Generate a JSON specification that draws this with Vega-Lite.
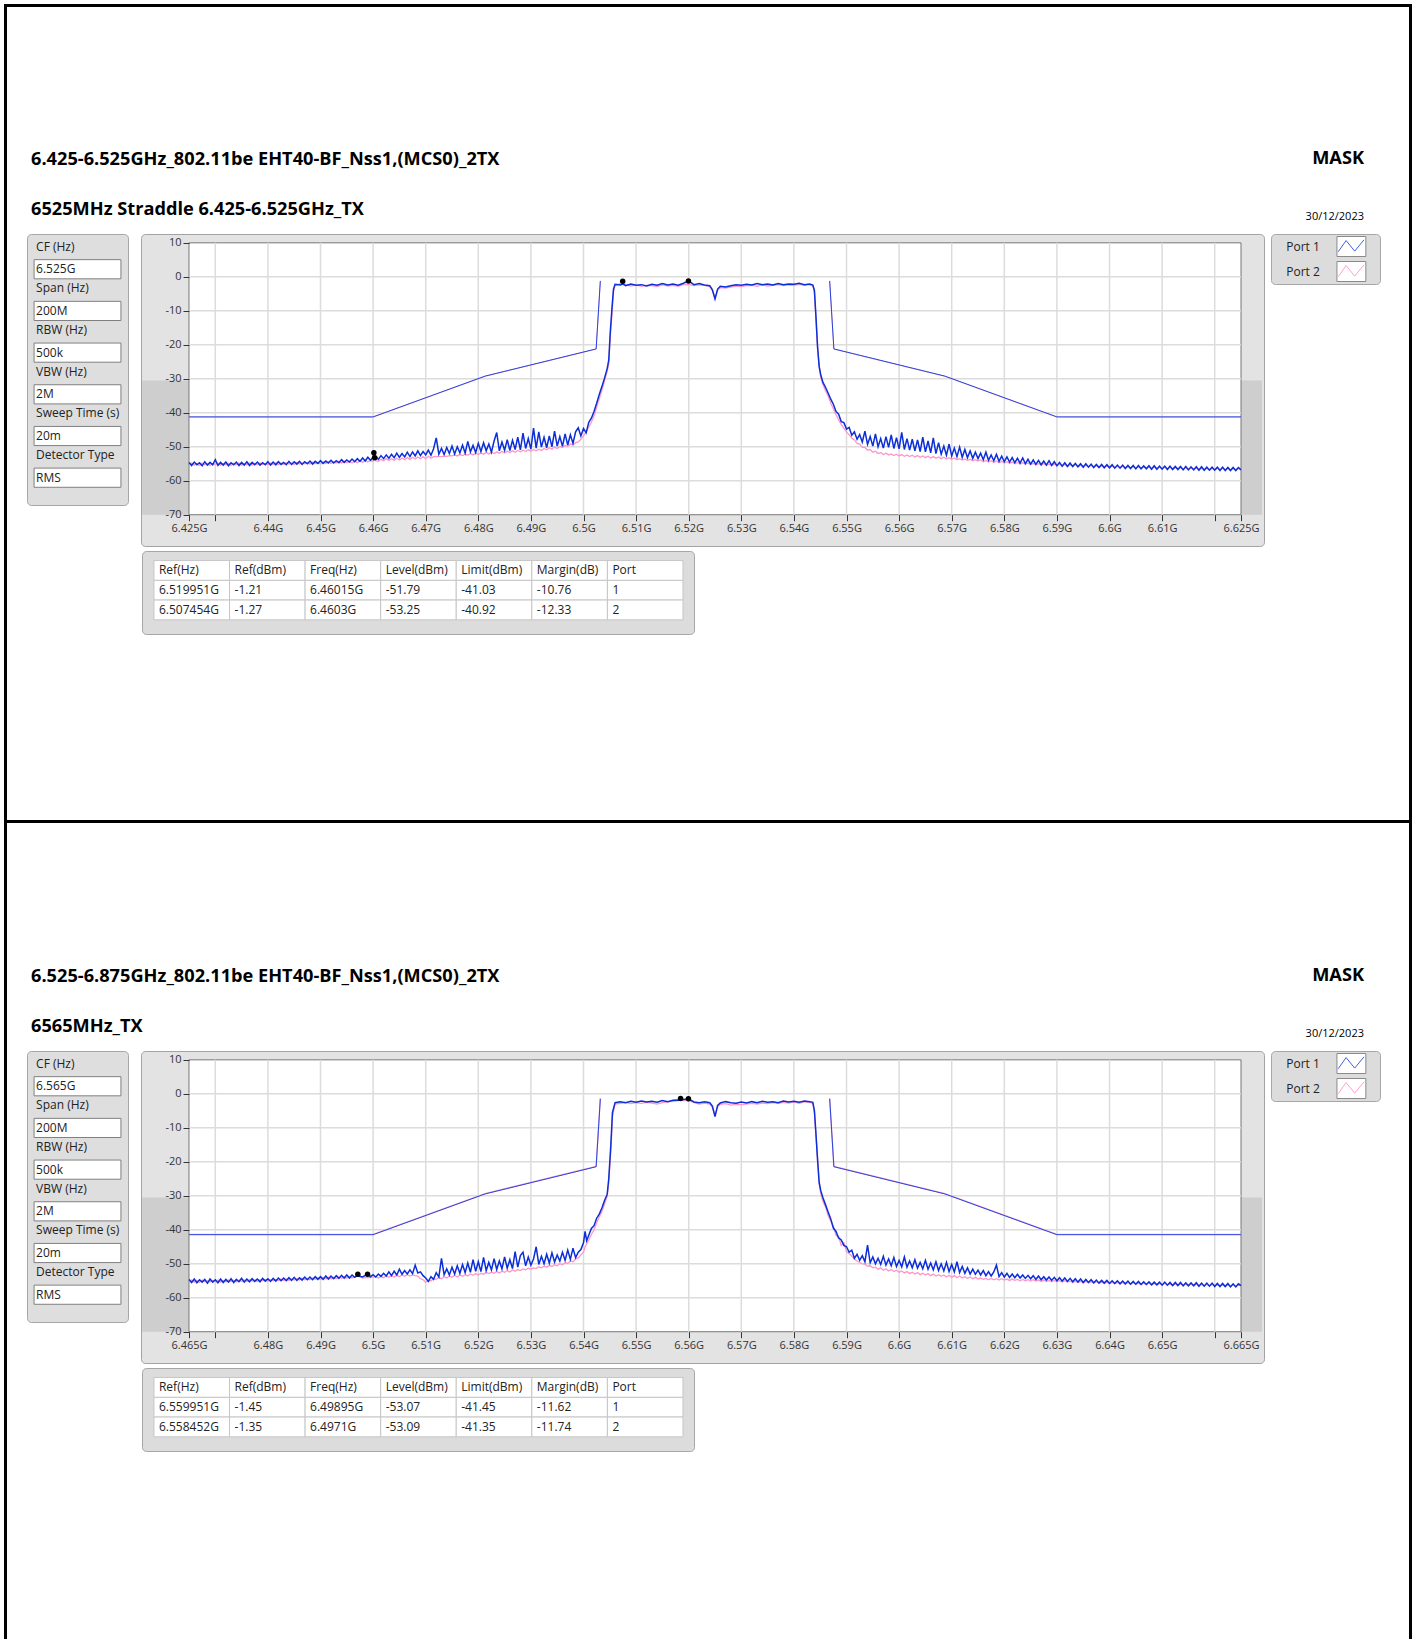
{
"$schema":"https://vega.github.io/schema/vega-lite/v6.json",
"padding":{"left":4,"top":4,"right":3,"bottom":0},
"background":"white",
"config":{"font":"Open Sans","view":{"stroke":null},"concat":{"spacing":0},
 "axis":{"labelOverlap":false,"labelSeparation":0},
 "locale":{"number":{"decimal":".","thousands":",","grouping":[3],"currency":["$",""],"minus":"-"}},
 "title":{"font":"Open Sans","subtitleFont":"Open Sans","color":"#000","subtitleColor":"#000"}},
"datasets":{
"par1":[{"p":"CF (Hz)","v":"6.525G"},{"p":"Span (Hz)","v":"200M"},{"p":"RBW (Hz)","v":"500k"},{"p":"VBW (Hz)","v":"2M"},{"p":"Sweep Time (s)","v":"20m"},{"p":"Detector Type","v":"RMS"}],
"par2":[{"p":"CF (Hz)","v":"6.565G"},{"p":"Span (Hz)","v":"200M"},{"p":"RBW (Hz)","v":"500k"},{"p":"VBW (Hz)","v":"2M"},{"p":"Sweep Time (s)","v":"20m"},{"p":"Detector Type","v":"RMS"}],
"ports":[{"port":"Port 1"},{"port":"Port 2"}],
"t1":[{"Ref(Hz)":6519951000,"Ref(dBm)":-1.21,"Freq(Hz)":6460150000,"Level(dBm)":-51.79,"Limit(dBm)":-41.03,"Margin(dB)":-10.76,"Port":1},{"Ref(Hz)":6507454000,"Ref(dBm)":-1.27,"Freq(Hz)":6460300000,"Level(dBm)":-53.25,"Limit(dBm)":-40.92,"Margin(dB)":-12.33,"Port":2}],
"t2":[{"Ref(Hz)":6559951000,"Ref(dBm)":-1.45,"Freq(Hz)":6498950000,"Level(dBm)":-53.07,"Limit(dBm)":-41.45,"Margin(dB)":-11.62,"Port":1},{"Ref(Hz)":6558452000,"Ref(dBm)":-1.35,"Freq(Hz)":6497100000,"Level(dBm)":-53.09,"Limit(dBm)":-41.35,"Margin(dB)":-11.74,"Port":2}],
"gx1":[{"g":6.43e9},{"g":6.44e9},{"g":6.45e9},{"g":6.46e9},{"g":6.47e9},{"g":6.48e9},{"g":6.49e9},{"g":6.5e9},{"g":6.51e9},{"g":6.52e9},{"g":6.53e9},{"g":6.54e9},{"g":6.55e9},{"g":6.56e9},{"g":6.57e9},{"g":6.58e9},{"g":6.59e9},{"g":6.6e9},{"g":6.61e9},{"g":6.62e9}],
"gx2":[{"g":6.47e9},{"g":6.48e9},{"g":6.49e9},{"g":6.5e9},{"g":6.51e9},{"g":6.52e9},{"g":6.53e9},{"g":6.54e9},{"g":6.55e9},{"g":6.56e9},{"g":6.57e9},{"g":6.58e9},{"g":6.59e9},{"g":6.6e9},{"g":6.61e9},{"g":6.62e9},{"g":6.63e9},{"g":6.64e9},{"g":6.65e9},{"g":6.66e9}],
"gy":[{"g":0},{"g":-10},{"g":-20},{"g":-30},{"g":-40},{"g":-50},{"g":-60}],
"m1":[{"f":6.425e9,"seg":"L","a":-41.21,"b":-41.27},{"f":6.46e9,"seg":"L","a":-41.21,"b":-41.27},{"f":6.4813e9,"seg":"L","a":-29.21,"b":-29.27},{"f":6.5024e9,"seg":"L","a":-21.21,"b":-21.27},{"f":6.5032e9,"seg":"L","a":-1.21,"b":-1.27},{"f":6.5468e9,"seg":"R","a":-1.21,"b":-1.27},{"f":6.5476e9,"seg":"R","a":-21.21,"b":-21.27},{"f":6.5687e9,"seg":"R","a":-29.21,"b":-29.27},{"f":6.59e9,"seg":"R","a":-41.21,"b":-41.27},{"f":6.625e9,"seg":"R","a":-41.21,"b":-41.27}],
"m2":[{"f":6.465e9,"seg":"L","a":-41.45,"b":-41.35},{"f":6.5e9,"seg":"L","a":-41.45,"b":-41.35},{"f":6.5213e9,"seg":"L","a":-29.45,"b":-29.35},{"f":6.5424e9,"seg":"L","a":-21.45,"b":-21.35},{"f":6.5432e9,"seg":"L","a":-1.45,"b":-1.35},{"f":6.5868e9,"seg":"R","a":-1.45,"b":-1.35},{"f":6.5876e9,"seg":"R","a":-21.45,"b":-21.35},{"f":6.6087e9,"seg":"R","a":-29.45,"b":-29.35},{"f":6.63e9,"seg":"R","a":-41.45,"b":-41.35},{"f":6.665e9,"seg":"R","a":-41.45,"b":-41.35}],
"s1":[
{"f":6.425e9,"a":-54.6,"b":-55.1},{"f":6.4255e9,"a":-55.5,"b":-54.8},{"f":6.426e9,"a":-54.5,"b":-55.4},{"f":6.4265e9,"a":-55.3,"b":-54.9},{"f":6.427e9,"a":-54.7,"b":-55.5},{"f":6.4275e9,"a":-55.6,"b":-54.8},{"f":6.428e9,"a":-54.4,"b":-55.3},{"f":6.4285e9,"a":-55.4,"b":-54.9},{"f":6.429e9,"a":-54.6,"b":-55.5},{"f":6.4295e9,"a":-55.3,"b":-55.0},{"f":6.43e9,"a":-53.8,"b":-55.2},{"f":6.4305e9,"a":-55.5,"b":-54.8},{"f":6.431e9,"a":-54.6,"b":-55.4},{"f":6.4315e9,"a":-55.4,"b":-54.9},{"f":6.432e9,"a":-54.5,"b":-55.3},{"f":6.4325e9,"a":-55.6,"b":-54.8},{"f":6.433e9,"a":-54.7,"b":-55.5},{"f":6.4335e9,"a":-55.3,"b":-54.9},{"f":6.434e9,"a":-54.5,"b":-55.3},{"f":6.4345e9,"a":-55.5,"b":-54.8},{"f":6.435e9,"a":-54.6,"b":-55.4},{"f":6.4355e9,"a":-55.4,"b":-54.9},{"f":6.436e9,"a":-54.4,"b":-55.3},{"f":6.4365e9,"a":-55.5,"b":-54.8},{"f":6.437e9,"a":-54.6,"b":-55.4},{"f":6.4375e9,"a":-55.3,"b":-54.9},{"f":6.438e9,"a":-54.5,"b":-55.3},{"f":6.4385e9,"a":-55.4,"b":-54.8},{"f":6.439e9,"a":-54.7,"b":-55.2},{"f":6.4395e9,"a":-55.3,"b":-54.9},{"f":6.44e9,"a":-54.4,"b":-55.3},{"f":6.4405e9,"a":-55.4,"b":-54.8},{"f":6.441e9,"a":-54.5,"b":-55.2},{"f":6.4415e9,"a":-55.3,"b":-54.7},{"f":6.442e9,"a":-54.4,"b":-55.3},{"f":6.4425e9,"a":-55.2,"b":-54.8},{"f":6.443e9,"a":-54.6,"b":-55.2},{"f":6.4435e9,"a":-55.3,"b":-54.7},{"f":6.444e9,"a":-54.3,"b":-55.1},{"f":6.4445e9,"a":-55.2,"b":-54.8},{"f":6.445e9,"a":-54.4,"b":-55.2},{"f":6.4455e9,"a":-55.1,"b":-54.6},{"f":6.446e9,"a":-54.3,"b":-55.1},{"f":6.4465e9,"a":-55.2,"b":-54.7},{"f":6.447e9,"a":-54.4,"b":-55.0},{"f":6.4475e9,"a":-55.0,"b":-54.6},{"f":6.448e9,"a":-54.2,"b":-55.1},{"f":6.4485e9,"a":-55.1,"b":-54.5},{"f":6.449e9,"a":-54.3,"b":-55.0},{"f":6.4495e9,"a":-54.9,"b":-54.6},{"f":6.45e9,"a":-54.1,"b":-55.0},{"f":6.4505e9,"a":-54.9,"b":-54.5},{"f":6.451e9,"a":-54.2,"b":-54.9},{"f":6.4515e9,"a":-54.8,"b":-54.4},{"f":6.452e9,"a":-54.0,"b":-54.9},{"f":6.4525e9,"a":-54.8,"b":-54.4},{"f":6.453e9,"a":-54.1,"b":-54.8},{"f":6.4535e9,"a":-54.7,"b":-54.3},{"f":6.454e9,"a":-53.8,"b":-54.8},{"f":6.4545e9,"a":-54.6,"b":-54.3},
{"f":6.455e9,"a":-53.9,"b":-54.7},{"f":6.4555e9,"a":-54.5,"b":-54.3},{"f":6.456e9,"a":-53.6,"b":-54.8},{"f":6.4565e9,"a":-54.4,"b":-54.2},{"f":6.457e9,"a":-53.5,"b":-54.7},{"f":6.4575e9,"a":-54.3,"b":-54.1},{"f":6.458e9,"a":-53.3,"b":-54.6},{"f":6.4585e9,"a":-54.2,"b":-53.9},{"f":6.459e9,"a":-53.1,"b":-54.5},{"f":6.4595e9,"a":-54.0,"b":-54.0},{"f":6.46e9,"a":-53.0,"b":-54.3},{"f":6.46015e9,"a":-51.79,"b":-53.7},{"f":6.4603e9,"a":-53.6,"b":-53.25},{"f":6.4605e9,"a":-52.8,"b":-54.1},{"f":6.461e9,"a":-53.7,"b":-54.3},{"f":6.4615e9,"a":-52.6,"b":-53.7},{"f":6.462e9,"a":-53.5,"b":-54.1},{"f":6.4625e9,"a":-52.4,"b":-53.5},{"f":6.463e9,"a":-53.4,"b":-54.0},{"f":6.4635e9,"a":-52.2,"b":-53.5},{"f":6.464e9,"a":-53.2,"b":-54.0},{"f":6.4645e9,"a":-51.9,"b":-53.4},{"f":6.465e9,"a":-53.1,"b":-53.9},{"f":6.4655e9,"a":-52.0,"b":-53.3},{"f":6.466e9,"a":-53.0,"b":-53.8},{"f":6.4665e9,"a":-51.6,"b":-53.2},{"f":6.467e9,"a":-52.9,"b":-53.7},{"f":6.4675e9,"a":-51.5,"b":-53.1},{"f":6.468e9,"a":-52.7,"b":-53.6},{"f":6.4685e9,"a":-51.2,"b":-53.0},{"f":6.469e9,"a":-52.6,"b":-53.5},{"f":6.4695e9,"a":-51.4,"b":-52.9},{"f":6.47e9,"a":-52.4,"b":-53.5},{"f":6.4705e9,"a":-51.0,"b":-52.8},{"f":6.471e9,"a":-52.5,"b":-53.4},{"f":6.4715e9,"a":-50.6,"b":-52.9},{"f":6.472e9,"a":-47.4,"b":-52.9},{"f":6.4725e9,"a":-52.2,"b":-52.9},{"f":6.473e9,"a":-50.5,"b":-52.9},{"f":6.4735e9,"a":-52.3,"b":-52.8},{"f":6.474e9,"a":-50.2,"b":-52.8},{"f":6.4745e9,"a":-52.0,"b":-52.6},{"f":6.475e9,"a":-49.8,"b":-52.7},{"f":6.4755e9,"a":-52.1,"b":-52.4},{"f":6.476e9,"a":-50.0,"b":-52.7},{"f":6.4765e9,"a":-51.8,"b":-52.3},{"f":6.477e9,"a":-49.5,"b":-52.6},{"f":6.4775e9,"a":-51.9,"b":-52.2},{"f":6.478e9,"a":-48.4,"b":-52.5},{"f":6.4785e9,"a":-51.5,"b":-52.0},{"f":6.479e9,"a":-49.6,"b":-52.4},{"f":6.4795e9,"a":-51.7,"b":-51.9},{"f":6.48e9,"a":-49.0,"b":-52.3},{"f":6.4805e9,"a":-51.4,"b":-51.8},{"f":6.481e9,"a":-48.8,"b":-52.2},{"f":6.4815e9,"a":-51.2,"b":-51.7},{"f":6.482e9,"a":-49.2,"b":-52.1},{"f":6.4825e9,"a":-51.6,"b":-51.6},{"f":6.483e9,"a":-48.3,"b":-52.0},{"f":6.4835e9,"a":-45.8,"b":-51.5},{"f":6.484e9,"a":-51.2,"b":-51.9},{"f":6.4845e9,"a":-48.6,"b":-51.4},{"f":6.485e9,"a":-51.0,"b":-51.8},{"f":6.4855e9,"a":-47.9,"b":-51.3},{"f":6.486e9,"a":-51.1,"b":-51.7},{"f":6.4865e9,"a":-48.1,"b":-51.2},{"f":6.487e9,"a":-50.8,"b":-51.6},{"f":6.4875e9,"a":-47.2,"b":-51.1},{"f":6.488e9,"a":-50.9,"b":-51.5},{"f":6.4885e9,"a":-46.0,"b":-51.0},{"f":6.489e9,"a":-50.5,"b":-51.4},{"f":6.4895e9,"a":-47.6,"b":-50.9},{"f":6.49e9,"a":-50.7,"b":-51.3},{"f":6.4905e9,"a":-44.5,"b":-50.8},{"f":6.491e9,"a":-50.4,"b":-51.2},{"f":6.4915e9,"a":-45.6,"b":-50.7},{"f":6.492e9,"a":-50.1,"b":-51.1},{"f":6.4925e9,"a":-47.2,"b":-50.5},{"f":6.493e9,"a":-50.3,"b":-50.9},{"f":6.4935e9,"a":-46.8,"b":-50.3},{"f":6.494e9,"a":-50.0,"b":-50.7},{"f":6.4945e9,"a":-45.4,"b":-50.1},{"f":6.495e9,"a":-49.8,"b":-50.5},{"f":6.4955e9,"a":-47.0,"b":-49.9},{"f":6.496e9,"a":-49.9,"b":-50.2},{"f":6.4965e9,"a":-46.2,"b":-49.6},{"f":6.497e9,"a":-49.5,"b":-49.9},{"f":6.4975e9,"a":-46.5,"b":-49.2},{"f":6.498e9,"a":-49.0,"b":-49.4},{"f":6.4985e9,"a":-45.6,"b":-48.8},{"f":6.499e9,"a":-44.4,"b":-48.6},{"f":6.4995e9,"a":-46.8,"b":-47.8},{"f":6.5e9,"a":-44.6,"b":-46.8},{"f":6.5005e9,"a":-45.9,"b":-45.6},{"f":6.501e9,"a":-42.8,"b":-44.2},{"f":6.5015e9,"a":-41.6,"b":-42.8},{"f":6.502e9,"a":-39.6,"b":-40.9},{"f":6.5025e9,"a":-37.2,"b":-38.4},{"f":6.503e9,"a":-34.6,"b":-35.9},{"f":6.5035e9,"a":-32.3,"b":-33.4},{"f":6.504e9,"a":-29.8,"b":-30.6},{"f":6.5045e9,"a":-27.0,"b":-27.8},{"f":6.5048e9,"a":-24.5,"b":-25.6},{"f":6.5051e9,"a":-16.0,"b":-17.5},{"f":6.5054e9,"a":-9.5,"b":-11.0},{"f":6.5057e9,"a":-3.6,"b":-4.4},{"f":6.506e9,"a":-2.2,"b":-2.6},
{"f":6.507e9,"a":-2.4,"b":-2.0},{"f":6.507454e9,"a":-2.1,"b":-1.27},{"f":6.508e9,"a":-2.6,"b":-2.3},{"f":6.509e9,"a":-2.1,"b":-2.7},{"f":6.51e9,"a":-2.5,"b":-2.4},{"f":6.511e9,"a":-2.3,"b":-2.8},{"f":6.512e9,"a":-2.7,"b":-2.5},{"f":6.513e9,"a":-2.2,"b":-2.6},{"f":6.514e9,"a":-2.5,"b":-2.9},{"f":6.515e9,"a":-2.0,"b":-2.4},{"f":6.516e9,"a":-2.4,"b":-2.7},{"f":6.517e9,"a":-2.1,"b":-2.5},{"f":6.518e9,"a":-2.5,"b":-2.8},{"f":6.519e9,"a":-1.9,"b":-2.3},{"f":6.519951e9,"a":-1.21,"b":-2.2},{"f":6.521e9,"a":-2.3,"b":-2.6},{"f":6.522e9,"a":-2.0,"b":-2.4},{"f":6.523e9,"a":-2.4,"b":-2.5},{"f":6.524e9,"a":-2.6,"b":-2.9},{"f":6.5245e9,"a":-3.8,"b":-4.0},{"f":6.525e9,"a":-6.5,"b":-6.2},{"f":6.5255e9,"a":-3.6,"b":-3.9},{"f":6.526e9,"a":-2.8,"b":-3.2},{"f":6.527e9,"a":-3.0,"b":-3.3},{"f":6.528e9,"a":-2.6,"b":-3.0},{"f":6.529e9,"a":-2.3,"b":-2.7},{"f":6.53e9,"a":-2.5,"b":-2.9},{"f":6.531e9,"a":-2.2,"b":-2.6},{"f":6.532e9,"a":-2.4,"b":-2.5},{"f":6.533e9,"a":-2.0,"b":-2.8},{"f":6.534e9,"a":-2.3,"b":-2.4},{"f":6.535e9,"a":-2.1,"b":-2.7},{"f":6.536e9,"a":-2.4,"b":-2.5},{"f":6.537e9,"a":-2.0,"b":-2.3},{"f":6.538e9,"a":-2.3,"b":-2.6},{"f":6.539e9,"a":-2.1,"b":-2.4},{"f":6.54e9,"a":-2.2,"b":-2.5},{"f":6.541e9,"a":-1.9,"b":-2.2},{"f":6.542e9,"a":-2.3,"b":-2.5},{"f":6.543e9,"a":-2.1,"b":-2.3},{"f":6.5436e9,"a":-2.4,"b":-2.7},{"f":6.5439e9,"a":-4.0,"b":-4.5},{"f":6.5442e9,"a":-12.0,"b":-12.5},{"f":6.5445e9,"a":-20.7,"b":-21.0},{"f":6.5448e9,"a":-26.4,"b":-26.0},{"f":6.5451e9,"a":-28.8,"b":-29.6},{"f":6.5455e9,"a":-31.0,"b":-31.6},{"f":6.546e9,"a":-32.5,"b":-33.5},{"f":6.5465e9,"a":-34.2,"b":-35.0},{"f":6.547e9,"a":-36.0,"b":-37.2},{"f":6.5475e9,"a":-37.5,"b":-38.8},{"f":6.548e9,"a":-39.6,"b":-40.6},{"f":6.5485e9,"a":-40.4,"b":-42.0},{"f":6.549e9,"a":-42.6,"b":-43.4},{"f":6.5495e9,"a":-42.9,"b":-44.6},{"f":6.55e9,"a":-44.8,"b":-45.6},{"f":6.5505e9,"a":-44.3,"b":-46.5},{"f":6.551e9,"a":-46.6,"b":-47.4},{"f":6.5515e9,"a":-45.6,"b":-48.0},{"f":6.552e9,"a":-47.8,"b":-49.0},{"f":6.5525e9,"a":-46.4,"b":-49.2},{"f":6.553e9,"a":-48.6,"b":-50.2},{"f":6.5535e9,"a":-45.4,"b":-50.2},{"f":6.554e9,"a":-49.3,"b":-51.0},{"f":6.5545e9,"a":-47.0,"b":-50.8},{"f":6.555e9,"a":-49.8,"b":-51.6},{"f":6.5555e9,"a":-46.2,"b":-51.3},{"f":6.556e9,"a":-50.0,"b":-52.0},{"f":6.5565e9,"a":-47.6,"b":-51.7},{"f":6.557e9,"a":-50.4,"b":-52.3},{"f":6.5575e9,"a":-47.0,"b":-51.9},{"f":6.558e9,"a":-50.2,"b":-52.4},{"f":6.5585e9,"a":-46.5,"b":-52.1},{"f":6.559e9,"a":-50.5,"b":-52.6},{"f":6.5595e9,"a":-47.3,"b":-52.2},{"f":6.56e9,"a":-50.6,"b":-52.7},{"f":6.5605e9,"a":-45.8,"b":-52.3},{"f":6.561e9,"a":-50.8,"b":-52.8},{"f":6.5615e9,"a":-47.6,"b":-52.4},{"f":6.562e9,"a":-51.0,"b":-52.9},{"f":6.5625e9,"a":-47.8,"b":-52.5},{"f":6.563e9,"a":-51.2,"b":-53.0},{"f":6.5635e9,"a":-48.0,"b":-52.6},{"f":6.564e9,"a":-51.4,"b":-53.1},{"f":6.5645e9,"a":-47.2,"b":-52.7},{"f":6.565e9,"a":-51.5,"b":-53.2},{"f":6.5655e9,"a":-48.3,"b":-52.8},{"f":6.566e9,"a":-51.8,"b":-53.3},{"f":6.5665e9,"a":-47.4,"b":-52.9},{"f":6.567e9,"a":-52.0,"b":-53.4},{"f":6.5675e9,"a":-48.8,"b":-53.0},{"f":6.568e9,"a":-52.2,"b":-53.5},{"f":6.5685e9,"a":-49.8,"b":-53.1},{"f":6.569e9,"a":-52.5,"b":-53.6},{"f":6.5695e9,"a":-49.2,"b":-53.2},{"f":6.57e9,"a":-52.7,"b":-53.7},{"f":6.5705e9,"a":-50.4,"b":-53.3},{"f":6.571e9,"a":-52.9,"b":-53.8},{"f":6.5715e9,"a":-50.1,"b":-53.5},{"f":6.572e9,"a":-53.1,"b":-53.9},{"f":6.5725e9,"a":-50.8,"b":-53.6},{"f":6.573e9,"a":-53.2,"b":-54.0},{"f":6.5735e9,"a":-51.2,"b":-53.7},{"f":6.574e9,"a":-53.4,"b":-54.1},{"f":6.5745e9,"a":-51.6,"b":-53.8},{"f":6.575e9,"a":-53.5,"b":-54.2},
{"f":6.5755e9,"a":-51.9,"b":-53.9},{"f":6.576e9,"a":-53.8,"b":-54.4},{"f":6.5765e9,"a":-51.6,"b":-54.0},{"f":6.577e9,"a":-54.0,"b":-54.5},{"f":6.5775e9,"a":-52.4,"b":-54.1},{"f":6.578e9,"a":-54.1,"b":-54.6},{"f":6.5785e9,"a":-52.2,"b":-54.2},{"f":6.579e9,"a":-54.3,"b":-54.7},{"f":6.5795e9,"a":-52.8,"b":-54.3},{"f":6.58e9,"a":-54.4,"b":-54.8},{"f":6.5805e9,"a":-53.0,"b":-54.4},{"f":6.581e9,"a":-54.5,"b":-54.9},{"f":6.5815e9,"a":-53.2,"b":-54.5},{"f":6.582e9,"a":-54.7,"b":-55.0},{"f":6.5825e9,"a":-53.4,"b":-54.6},{"f":6.583e9,"a":-54.8,"b":-55.1},{"f":6.5835e9,"a":-53.3,"b":-54.7},{"f":6.584e9,"a":-55.0,"b":-55.1},{"f":6.5845e9,"a":-53.7,"b":-54.8},{"f":6.585e9,"a":-55.1,"b":-55.2},{"f":6.5855e9,"a":-53.9,"b":-54.9},{"f":6.586e9,"a":-55.2,"b":-55.3},{"f":6.5865e9,"a":-54.0,"b":-55.0},{"f":6.587e9,"a":-55.3,"b":-55.3},{"f":6.5875e9,"a":-54.2,"b":-55.0},{"f":6.588e9,"a":-55.4,"b":-55.4},{"f":6.5885e9,"a":-54.1,"b":-55.1},{"f":6.589e9,"a":-55.5,"b":-55.5},{"f":6.5895e9,"a":-54.4,"b":-55.1},{"f":6.59e9,"a":-55.6,"b":-55.5},{"f":6.5905e9,"a":-54.6,"b":-55.2},{"f":6.591e9,"a":-55.7,"b":-55.6},{"f":6.5915e9,"a":-54.7,"b":-55.2},{"f":6.592e9,"a":-55.8,"b":-55.7},{"f":6.5925e9,"a":-54.8,"b":-55.3},{"f":6.593e9,"a":-55.8,"b":-55.7},{"f":6.5935e9,"a":-54.9,"b":-55.3},{"f":6.594e9,"a":-55.9,"b":-55.8},{"f":6.5945e9,"a":-55.0,"b":-55.4},{"f":6.595e9,"a":-56.0,"b":-55.8},{"f":6.5955e9,"a":-55.0,"b":-55.4},{"f":6.596e9,"a":-56.0,"b":-55.9},{"f":6.5965e9,"a":-55.1,"b":-55.5},{"f":6.597e9,"a":-56.1,"b":-55.9},{"f":6.5975e9,"a":-55.2,"b":-55.5},{"f":6.598e9,"a":-56.1,"b":-56.0},{"f":6.5985e9,"a":-55.2,"b":-55.6},{"f":6.599e9,"a":-56.2,"b":-56.0},{"f":6.5995e9,"a":-55.3,"b":-55.6},{"f":6.6e9,"a":-56.2,"b":-56.1},{"f":6.6005e9,"a":-55.3,"b":-55.7},{"f":6.601e9,"a":-56.3,"b":-56.1},{"f":6.6015e9,"a":-55.4,"b":-55.7},{"f":6.602e9,"a":-56.3,"b":-56.2},{"f":6.6025e9,"a":-55.4,"b":-55.7},{"f":6.603e9,"a":-56.4,"b":-56.2},{"f":6.6035e9,"a":-55.5,"b":-55.8},{"f":6.604e9,"a":-56.4,"b":-56.2},{"f":6.6045e9,"a":-55.5,"b":-55.8},{"f":6.605e9,"a":-56.5,"b":-56.3},{"f":6.6055e9,"a":-55.5,"b":-55.8},{"f":6.606e9,"a":-56.5,"b":-56.3},{"f":6.6065e9,"a":-55.6,"b":-55.9},{"f":6.607e9,"a":-56.5,"b":-56.3},{"f":6.6075e9,"a":-55.6,"b":-55.9},{"f":6.608e9,"a":-56.6,"b":-56.4},{"f":6.6085e9,"a":-55.6,"b":-55.9},{"f":6.609e9,"a":-56.6,"b":-56.4},{"f":6.6095e9,"a":-55.7,"b":-56.0},{"f":6.61e9,"a":-56.6,"b":-56.4},{"f":6.6105e9,"a":-55.7,"b":-56.0},{"f":6.611e9,"a":-56.7,"b":-56.5},{"f":6.6115e9,"a":-55.7,"b":-56.0},{"f":6.612e9,"a":-56.7,"b":-56.5},{"f":6.6125e9,"a":-55.8,"b":-56.1},{"f":6.613e9,"a":-56.7,"b":-56.5},{"f":6.6135e9,"a":-55.8,"b":-56.1},{"f":6.614e9,"a":-56.8,"b":-56.6},{"f":6.6145e9,"a":-55.8,"b":-56.1},{"f":6.615e9,"a":-56.8,"b":-56.6},{"f":6.6155e9,"a":-55.9,"b":-56.2},{"f":6.616e9,"a":-56.8,"b":-56.6},{"f":6.6165e9,"a":-55.9,"b":-56.2},{"f":6.617e9,"a":-56.9,"b":-56.7},{"f":6.6175e9,"a":-55.9,"b":-56.2},{"f":6.618e9,"a":-56.9,"b":-56.7},{"f":6.6185e9,"a":-56.0,"b":-56.3},{"f":6.619e9,"a":-56.9,"b":-56.7},{"f":6.6195e9,"a":-56.0,"b":-56.3},{"f":6.62e9,"a":-56.9,"b":-56.7},{"f":6.6205e9,"a":-56.0,"b":-56.3},{"f":6.621e9,"a":-57.0,"b":-56.8},{"f":6.6215e9,"a":-56.0,"b":-56.3},{"f":6.622e9,"a":-57.0,"b":-56.8},{"f":6.6225e9,"a":-56.1,"b":-56.4},{"f":6.623e9,"a":-57.0,"b":-56.8},{"f":6.6235e9,"a":-56.1,"b":-56.4},{"f":6.624e9,"a":-57.0,"b":-56.8},{"f":6.6245e9,"a":-56.1,"b":-56.4},{"f":6.625e9,"a":-56.8,"b":-56.6}],
"s2":[
{"f":6.465e9,"a":-54.6,"b":-55.1},{"f":6.4655e9,"a":-55.5,"b":-54.8},{"f":6.466e9,"a":-54.5,"b":-55.4},{"f":6.4665e9,"a":-55.6,"b":-54.9},{"f":6.467e9,"a":-54.7,"b":-55.5},{"f":6.4675e9,"a":-55.4,"b":-54.8},{"f":6.468e9,"a":-54.6,"b":-55.3},{"f":6.4685e9,"a":-55.7,"b":-55.0},{"f":6.469e9,"a":-54.5,"b":-55.4},{"f":6.4695e9,"a":-55.4,"b":-54.9},{"f":6.47e9,"a":-54.7,"b":-55.3},{"f":6.4705e9,"a":-55.6,"b":-54.8},{"f":6.471e9,"a":-54.5,"b":-55.4},{"f":6.4715e9,"a":-55.5,"b":-54.9},{"f":6.472e9,"a":-54.6,"b":-55.3},{"f":6.4725e9,"a":-55.4,"b":-54.8},{"f":6.473e9,"a":-54.4,"b":-55.2},{"f":6.4735e9,"a":-55.5,"b":-54.9},{"f":6.474e9,"a":-54.6,"b":-55.3},{"f":6.4745e9,"a":-55.3,"b":-54.8},{"f":6.475e9,"a":-54.3,"b":-55.2},{"f":6.4755e9,"a":-55.4,"b":-54.8},{"f":6.476e9,"a":-54.5,"b":-55.2},{"f":6.4765e9,"a":-55.3,"b":-54.7},{"f":6.477e9,"a":-54.4,"b":-55.1},{"f":6.4775e9,"a":-55.2,"b":-54.8},{"f":6.478e9,"a":-54.5,"b":-55.2},{"f":6.4785e9,"a":-55.3,"b":-54.7},{"f":6.479e9,"a":-54.3,"b":-55.0},{"f":6.4795e9,"a":-55.1,"b":-54.7},{"f":6.48e9,"a":-54.4,"b":-55.1},{"f":6.4805e9,"a":-55.2,"b":-54.6},{"f":6.481e9,"a":-54.3,"b":-55.0},{"f":6.4815e9,"a":-55.1,"b":-54.6},{"f":6.482e9,"a":-54.2,"b":-55.0},{"f":6.4825e9,"a":-55.0,"b":-54.5},{"f":6.483e9,"a":-54.2,"b":-54.9},{"f":6.4835e9,"a":-55.0,"b":-54.5},{"f":6.484e9,"a":-54.1,"b":-54.9},{"f":6.4845e9,"a":-54.9,"b":-54.4},{"f":6.485e9,"a":-54.0,"b":-54.8},{"f":6.4855e9,"a":-54.9,"b":-54.4},{"f":6.486e9,"a":-54.1,"b":-54.8},{"f":6.4865e9,"a":-54.8,"b":-54.3},{"f":6.487e9,"a":-53.9,"b":-54.7},{"f":6.4875e9,"a":-54.7,"b":-54.3},{"f":6.488e9,"a":-53.9,"b":-54.7},{"f":6.4885e9,"a":-54.7,"b":-54.2},{"f":6.489e9,"a":-53.8,"b":-54.6},{"f":6.4895e9,"a":-54.6,"b":-54.2},{"f":6.49e9,"a":-53.8,"b":-54.6},{"f":6.4905e9,"a":-54.6,"b":-54.1},{"f":6.491e9,"a":-53.6,"b":-54.5},{"f":6.4915e9,"a":-54.5,"b":-54.0},{"f":6.492e9,"a":-53.6,"b":-54.5},{"f":6.4925e9,"a":-54.4,"b":-54.0},{"f":6.493e9,"a":-53.5,"b":-54.4},{"f":6.4935e9,"a":-54.3,"b":-53.9},{"f":6.494e9,"a":-53.4,"b":-54.3},{"f":6.4945e9,"a":-54.2,"b":-53.9},{"f":6.495e9,"a":-53.3,"b":-54.3},{"f":6.4955e9,"a":-54.2,"b":-53.8},{"f":6.496e9,"a":-53.3,"b":-54.2},{"f":6.4965e9,"a":-54.0,"b":-53.8},{"f":6.497e9,"a":-53.5,"b":-53.6},{"f":6.4971e9,"a":-53.6,"b":-53.09},{"f":6.498e9,"a":-53.9,"b":-54.2},{"f":6.49895e9,"a":-53.07,"b":-54.0},{"f":6.4995e9,"a":-53.8,"b":-54.1},
{"f":6.5e9,"a":-53.2,"b":-53.9},{"f":6.5005e9,"a":-53.9,"b":-53.8},{"f":6.501e9,"a":-53.0,"b":-54.2},{"f":6.5015e9,"a":-53.7,"b":-53.7},{"f":6.502e9,"a":-52.8,"b":-54.1},{"f":6.5025e9,"a":-53.6,"b":-53.6},{"f":6.503e9,"a":-52.4,"b":-54.0},{"f":6.5035e9,"a":-53.5,"b":-53.5},{"f":6.504e9,"a":-52.2,"b":-53.9},{"f":6.5045e9,"a":-53.3,"b":-53.4},{"f":6.505e9,"a":-51.6,"b":-53.8},{"f":6.5055e9,"a":-53.1,"b":-53.3},{"f":6.506e9,"a":-52.0,"b":-53.7},{"f":6.5065e9,"a":-53.0,"b":-53.2},{"f":6.507e9,"a":-51.8,"b":-53.6},{"f":6.5075e9,"a":-52.9,"b":-53.3},{"f":6.508e9,"a":-50.4,"b":-53.5},{"f":6.5085e9,"a":-52.7,"b":-53.6},{"f":6.509e9,"a":-52.4,"b":-54.4},{"f":6.5095e9,"a":-53.5,"b":-54.7},{"f":6.51e9,"a":-54.2,"b":-55.4},{"f":6.5105e9,"a":-55.2,"b":-55.0},{"f":6.511e9,"a":-53.8,"b":-55.0},{"f":6.5115e9,"a":-54.6,"b":-54.4},{"f":6.512e9,"a":-52.6,"b":-54.6},{"f":6.5125e9,"a":-53.9,"b":-54.0},{"f":6.513e9,"a":-48.4,"b":-54.4},{"f":6.5135e9,"a":-53.2,"b":-53.8},{"f":6.514e9,"a":-51.5,"b":-54.2},{"f":6.5145e9,"a":-53.3,"b":-53.6},{"f":6.515e9,"a":-51.0,"b":-54.0},{"f":6.5155e9,"a":-53.0,"b":-53.4},{"f":6.516e9,"a":-50.6,"b":-53.9},{"f":6.5165e9,"a":-52.8,"b":-53.3},{"f":6.517e9,"a":-50.2,"b":-53.7},{"f":6.5175e9,"a":-52.6,"b":-53.2},{"f":6.518e9,"a":-49.8,"b":-53.6},{"f":6.5185e9,"a":-52.5,"b":-53.0},{"f":6.519e9,"a":-48.8,"b":-53.4},{"f":6.5195e9,"a":-52.2,"b":-52.9},{"f":6.52e9,"a":-49.4,"b":-53.3},{"f":6.5205e9,"a":-52.3,"b":-52.8},{"f":6.521e9,"a":-48.1,"b":-53.1},{"f":6.5215e9,"a":-52.0,"b":-52.6},{"f":6.522e9,"a":-49.6,"b":-52.9},{"f":6.5225e9,"a":-51.8,"b":-52.5},{"f":6.523e9,"a":-48.5,"b":-52.8},{"f":6.5235e9,"a":-51.7,"b":-52.3},{"f":6.524e9,"a":-49.2,"b":-52.7},{"f":6.5245e9,"a":-51.5,"b":-52.2},{"f":6.525e9,"a":-48.0,"b":-52.5},{"f":6.5255e9,"a":-51.3,"b":-52.0},{"f":6.526e9,"a":-48.8,"b":-52.4},{"f":6.5265e9,"a":-51.4,"b":-51.8},{"f":6.527e9,"a":-46.4,"b":-52.2},{"f":6.5275e9,"a":-51.0,"b":-51.7},{"f":6.528e9,"a":-47.6,"b":-52.0},{"f":6.5285e9,"a":-46.6,"b":-51.5},{"f":6.529e9,"a":-50.6,"b":-51.8},{"f":6.5295e9,"a":-48.0,"b":-51.3},{"f":6.53e9,"a":-50.4,"b":-51.6},{"f":6.5305e9,"a":-48.6,"b":-51.2},{"f":6.531e9,"a":-45.0,"b":-51.4},{"f":6.5315e9,"a":-50.2,"b":-50.9},{"f":6.532e9,"a":-47.8,"b":-51.2},{"f":6.5325e9,"a":-50.0,"b":-50.7},{"f":6.533e9,"a":-47.2,"b":-51.0},{"f":6.5335e9,"a":-49.8,"b":-50.5},{"f":6.534e9,"a":-46.8,"b":-50.8},{"f":6.5345e9,"a":-49.5,"b":-50.3},{"f":6.535e9,"a":-47.4,"b":-50.6},{"f":6.5355e9,"a":-49.2,"b":-50.0},{"f":6.536e9,"a":-46.6,"b":-50.3},{"f":6.5365e9,"a":-49.0,"b":-49.7},{"f":6.537e9,"a":-46.0,"b":-49.9},{"f":6.5375e9,"a":-48.7,"b":-49.2},{"f":6.538e9,"a":-45.4,"b":-49.4},{"f":6.5385e9,"a":-48.2,"b":-48.6},{"f":6.539e9,"a":-46.6,"b":-48.3},{"f":6.5395e9,"a":-45.8,"b":-47.4},{"f":6.54e9,"a":-43.8,"b":-46.6},{"f":6.5403e9,"a":-40.5,"b":-45.0},{"f":6.5406e9,"a":-43.2,"b":-44.2},{"f":6.541e9,"a":-41.6,"b":-43.0},{"f":6.5415e9,"a":-39.6,"b":-41.4},{"f":6.542e9,"a":-38.8,"b":-40.0},{"f":6.5425e9,"a":-36.6,"b":-38.0},{"f":6.543e9,"a":-35.4,"b":-36.2},{"f":6.5435e9,"a":-33.6,"b":-34.6},{"f":6.544e9,"a":-31.4,"b":-32.4},{"f":6.5445e9,"a":-29.6,"b":-30.2},{"f":6.5448e9,"a":-25.0,"b":-26.0},{"f":6.5452e9,"a":-15.0,"b":-16.5},{"f":6.5455e9,"a":-5.5,"b":-6.8},{"f":6.546e9,"a":-2.6,"b":-3.0},
{"f":6.547e9,"a":-2.3,"b":-2.8},{"f":6.548e9,"a":-2.6,"b":-2.5},{"f":6.549e9,"a":-2.2,"b":-2.9},{"f":6.55e9,"a":-2.5,"b":-2.6},{"f":6.551e9,"a":-2.1,"b":-2.8},{"f":6.552e9,"a":-2.4,"b":-2.5},{"f":6.553e9,"a":-2.2,"b":-2.7},{"f":6.554e9,"a":-2.5,"b":-3.0},{"f":6.555e9,"a":-2.0,"b":-2.6},{"f":6.556e9,"a":-2.3,"b":-2.4},{"f":6.557e9,"a":-1.9,"b":-2.2},{"f":6.558e9,"a":-1.8,"b":-2.0},{"f":6.558452e9,"a":-1.9,"b":-1.35},{"f":6.559e9,"a":-1.7,"b":-2.0},{"f":6.559951e9,"a":-1.45,"b":-1.9},{"f":6.561e9,"a":-2.4,"b":-2.6},{"f":6.562e9,"a":-2.6,"b":-3.0},{"f":6.563e9,"a":-2.3,"b":-2.7},{"f":6.564e9,"a":-2.6,"b":-3.0},{"f":6.5645e9,"a":-3.6,"b":-4.0},{"f":6.565e9,"a":-6.7,"b":-6.3},{"f":6.5655e9,"a":-3.4,"b":-3.8},{"f":6.566e9,"a":-2.7,"b":-3.1},{"f":6.567e9,"a":-2.3,"b":-2.9},{"f":6.568e9,"a":-2.6,"b":-3.3},{"f":6.569e9,"a":-2.8,"b":-3.1},{"f":6.57e9,"a":-2.4,"b":-3.2},{"f":6.571e9,"a":-2.7,"b":-3.0},{"f":6.572e9,"a":-2.3,"b":-2.8},{"f":6.573e9,"a":-2.6,"b":-3.0},{"f":6.574e9,"a":-2.2,"b":-2.7},{"f":6.575e9,"a":-2.5,"b":-2.9},{"f":6.576e9,"a":-2.3,"b":-2.6},{"f":6.577e9,"a":-2.6,"b":-2.8},{"f":6.578e9,"a":-2.1,"b":-2.5},{"f":6.579e9,"a":-2.4,"b":-2.7},{"f":6.58e9,"a":-2.2,"b":-2.4},{"f":6.581e9,"a":-2.5,"b":-2.8},{"f":6.582e9,"a":-2.1,"b":-2.4},{"f":6.583e9,"a":-2.3,"b":-2.5},{"f":6.5836e9,"a":-2.5,"b":-2.8},{"f":6.5839e9,"a":-5.0,"b":-5.5},{"f":6.5842e9,"a":-12.0,"b":-12.5},{"f":6.5845e9,"a":-19.5,"b":-19.0},{"f":6.5848e9,"a":-26.0,"b":-26.5},{"f":6.5851e9,"a":-28.5,"b":-29.3},{"f":6.5855e9,"a":-30.5,"b":-31.6},{"f":6.586e9,"a":-32.6,"b":-33.2},{"f":6.5865e9,"a":-34.8,"b":-35.8},{"f":6.587e9,"a":-36.8,"b":-37.5},{"f":6.5875e9,"a":-39.5,"b":-39.0},{"f":6.588e9,"a":-40.5,"b":-41.6},{"f":6.5885e9,"a":-42.4,"b":-42.0},{"f":6.589e9,"a":-43.0,"b":-44.6},{"f":6.5895e9,"a":-44.6,"b":-43.8},{"f":6.59e9,"a":-45.0,"b":-46.4},{"f":6.5905e9,"a":-46.6,"b":-47.0},{"f":6.591e9,"a":-46.0,"b":-47.8},{"f":6.5915e9,"a":-48.4,"b":-48.6},{"f":6.592e9,"a":-47.2,"b":-49.2},{"f":6.5925e9,"a":-49.0,"b":-49.6},{"f":6.593e9,"a":-47.6,"b":-50.0},{"f":6.5935e9,"a":-49.4,"b":-50.2},{"f":6.594e9,"a":-44.5,"b":-50.7},{"f":6.5945e9,"a":-49.7,"b":-50.6},{"f":6.595e9,"a":-48.0,"b":-51.2},{"f":6.5955e9,"a":-50.0,"b":-51.0},
{"f":6.596e9,"a":-48.4,"b":-51.6},{"f":6.5965e9,"a":-50.2,"b":-51.2},{"f":6.597e9,"a":-47.8,"b":-51.9},{"f":6.5975e9,"a":-50.4,"b":-51.5},{"f":6.598e9,"a":-48.6,"b":-52.1},{"f":6.5985e9,"a":-50.6,"b":-51.7},{"f":6.599e9,"a":-48.2,"b":-52.3},{"f":6.5995e9,"a":-50.8,"b":-51.9},{"f":6.6e9,"a":-49.0,"b":-52.5},{"f":6.6005e9,"a":-50.9,"b":-52.1},{"f":6.601e9,"a":-48.0,"b":-52.7},{"f":6.6015e9,"a":-51.0,"b":-52.3},{"f":6.602e9,"a":-49.2,"b":-52.9},{"f":6.6025e9,"a":-51.2,"b":-52.5},{"f":6.603e9,"a":-48.8,"b":-53.0},{"f":6.6035e9,"a":-51.3,"b":-52.6},{"f":6.604e9,"a":-49.6,"b":-53.2},{"f":6.6045e9,"a":-51.5,"b":-52.8},{"f":6.605e9,"a":-49.0,"b":-53.3},{"f":6.6055e9,"a":-51.6,"b":-52.9},{"f":6.606e9,"a":-49.8,"b":-53.5},{"f":6.6065e9,"a":-51.8,"b":-53.0},{"f":6.607e9,"a":-49.4,"b":-53.6},{"f":6.6075e9,"a":-52.0,"b":-53.2},{"f":6.608e9,"a":-50.0,"b":-53.7},{"f":6.6085e9,"a":-52.1,"b":-53.3},{"f":6.609e9,"a":-49.6,"b":-53.9},{"f":6.6095e9,"a":-52.3,"b":-53.4},{"f":6.61e9,"a":-50.2,"b":-54.0},{"f":6.6105e9,"a":-52.4,"b":-53.5},{"f":6.611e9,"a":-49.4,"b":-54.1},{"f":6.6115e9,"a":-52.6,"b":-53.6},{"f":6.612e9,"a":-50.8,"b":-54.2},{"f":6.6125e9,"a":-52.8,"b":-53.8},{"f":6.613e9,"a":-51.2,"b":-54.3},{"f":6.6135e9,"a":-53.0,"b":-53.9},{"f":6.614e9,"a":-51.6,"b":-54.4},{"f":6.6145e9,"a":-53.1,"b":-54.0},{"f":6.615e9,"a":-51.9,"b":-54.5},
{"f":6.6155e9,"a":-53.3,"b":-54.2},{"f":6.616e9,"a":-52.0,"b":-54.6},{"f":6.6165e9,"a":-53.5,"b":-54.3},{"f":6.617e9,"a":-52.3,"b":-54.7},{"f":6.6175e9,"a":-53.6,"b":-54.3},{"f":6.618e9,"a":-52.4,"b":-54.7},{"f":6.6185e9,"a":-50.4,"b":-54.4},{"f":6.619e9,"a":-53.8,"b":-54.8},{"f":6.6195e9,"a":-52.6,"b":-54.4},{"f":6.62e9,"a":-53.9,"b":-54.8},{"f":6.6205e9,"a":-52.8,"b":-54.5},{"f":6.621e9,"a":-54.0,"b":-54.9},{"f":6.6215e9,"a":-53.0,"b":-54.5},{"f":6.622e9,"a":-54.1,"b":-54.9},{"f":6.6225e9,"a":-53.1,"b":-54.6},{"f":6.623e9,"a":-54.2,"b":-55.0},{"f":6.6235e9,"a":-53.3,"b":-54.6},{"f":6.624e9,"a":-54.3,"b":-55.0},{"f":6.6245e9,"a":-53.4,"b":-54.7},{"f":6.625e9,"a":-54.4,"b":-55.1},{"f":6.6255e9,"a":-53.5,"b":-54.7},{"f":6.626e9,"a":-54.6,"b":-55.1},{"f":6.6265e9,"a":-53.6,"b":-54.8},{"f":6.627e9,"a":-54.7,"b":-55.2},{"f":6.6275e9,"a":-53.8,"b":-54.8},{"f":6.628e9,"a":-54.8,"b":-55.2},{"f":6.6285e9,"a":-53.9,"b":-54.9},{"f":6.629e9,"a":-54.9,"b":-55.3},{"f":6.6295e9,"a":-54.0,"b":-54.9},{"f":6.63e9,"a":-55.0,"b":-55.3},{"f":6.6305e9,"a":-54.1,"b":-55.0},{"f":6.631e9,"a":-55.1,"b":-55.4},{"f":6.6315e9,"a":-54.2,"b":-55.0},{"f":6.632e9,"a":-55.2,"b":-55.4},{"f":6.6325e9,"a":-54.3,"b":-55.1},{"f":6.633e9,"a":-55.3,"b":-55.5},{"f":6.6335e9,"a":-54.4,"b":-55.1},{"f":6.634e9,"a":-55.4,"b":-55.5},{"f":6.6345e9,"a":-54.5,"b":-55.2},{"f":6.635e9,"a":-55.5,"b":-55.6},{"f":6.6355e9,"a":-54.6,"b":-55.2},{"f":6.636e9,"a":-55.5,"b":-55.6},{"f":6.6365e9,"a":-54.7,"b":-55.3},{"f":6.637e9,"a":-55.6,"b":-55.7},{"f":6.6375e9,"a":-54.8,"b":-55.3},{"f":6.638e9,"a":-55.7,"b":-55.7},{"f":6.6385e9,"a":-54.9,"b":-55.4},{"f":6.639e9,"a":-55.7,"b":-55.8},{"f":6.6395e9,"a":-54.9,"b":-55.4},{"f":6.64e9,"a":-55.8,"b":-55.8},{"f":6.6405e9,"a":-55.0,"b":-55.5},{"f":6.641e9,"a":-55.8,"b":-55.9},{"f":6.6415e9,"a":-55.0,"b":-55.5},{"f":6.642e9,"a":-55.9,"b":-55.9},{"f":6.6425e9,"a":-55.1,"b":-55.5},{"f":6.643e9,"a":-55.9,"b":-56.0},{"f":6.6435e9,"a":-55.1,"b":-55.6},{"f":6.644e9,"a":-56.0,"b":-56.0},{"f":6.6445e9,"a":-55.2,"b":-55.6},{"f":6.645e9,"a":-56.0,"b":-56.0},{"f":6.6455e9,"a":-55.2,"b":-55.7},{"f":6.646e9,"a":-56.1,"b":-56.1},{"f":6.6465e9,"a":-55.3,"b":-55.7},{"f":6.647e9,"a":-56.1,"b":-56.1},{"f":6.6475e9,"a":-55.3,"b":-55.7},{"f":6.648e9,"a":-56.2,"b":-56.1},{"f":6.6485e9,"a":-55.4,"b":-55.8},{"f":6.649e9,"a":-56.2,"b":-56.2},{"f":6.6495e9,"a":-55.4,"b":-55.8},{"f":6.65e9,"a":-56.3,"b":-56.2},{"f":6.6505e9,"a":-55.4,"b":-55.8},{"f":6.651e9,"a":-56.3,"b":-56.2},{"f":6.6515e9,"a":-55.5,"b":-55.9},{"f":6.652e9,"a":-56.4,"b":-56.3},{"f":6.6525e9,"a":-55.5,"b":-55.9},{"f":6.653e9,"a":-56.4,"b":-56.3},{"f":6.6535e9,"a":-55.5,"b":-55.9},{"f":6.654e9,"a":-56.5,"b":-56.3},{"f":6.6545e9,"a":-55.6,"b":-56.0},{"f":6.655e9,"a":-56.5,"b":-56.4},{"f":6.6555e9,"a":-55.6,"b":-56.0},{"f":6.656e9,"a":-56.5,"b":-56.4},{"f":6.6565e9,"a":-55.6,"b":-56.0},{"f":6.657e9,"a":-56.6,"b":-56.4},{"f":6.6575e9,"a":-55.7,"b":-56.1},{"f":6.658e9,"a":-56.6,"b":-56.5},{"f":6.6585e9,"a":-55.7,"b":-56.1},{"f":6.659e9,"a":-56.6,"b":-56.5},{"f":6.6595e9,"a":-55.7,"b":-56.1},{"f":6.66e9,"a":-56.7,"b":-56.5},{"f":6.6605e9,"a":-55.8,"b":-56.2},{"f":6.661e9,"a":-56.7,"b":-56.5},{"f":6.6615e9,"a":-55.8,"b":-56.2},{"f":6.662e9,"a":-56.7,"b":-56.6},{"f":6.6625e9,"a":-55.8,"b":-56.2},{"f":6.663e9,"a":-56.8,"b":-56.6},{"f":6.6635e9,"a":-55.9,"b":-56.2},{"f":6.664e9,"a":-56.8,"b":-56.6},{"f":6.6645e9,"a":-55.9,"b":-56.3},{"f":6.665e9,"a":-56.4,"b":-56.5}]
},
"spacing":0,
"vconcat":[
{"width":1408,"height":3,"view":{"fill":"black","stroke":null},"data":{"values":[]},"mark":"point","encoding":{}},
{"spacing":0,"hconcat":[
 {"width":3,"height":813,"view":{"fill":"black","stroke":null},"data":{"values":[]},"mark":"point","encoding":{}},
 {"spacing":0,"vconcat":[
  {"width":1402,"height":140.5,"data":{"values":[]},"mark":"point","encoding":{}},
  {"spacing":657,"hconcat":[
   {"width":600,"height":1,"data":{"values":[]},"mark":"point","encoding":{},
    "title":{"text":"6.425-6.525GHz_802.11be EHT40-BF_Nss1,(MCS0)_2TX","subtitle":"6525MHz Straddle 6.425-6.525GHz_TX","anchor":"start","dx":24,"fontSize":18.2,"fontWeight":"bold","subtitleFontSize":18.2,"subtitleFontWeight":"bold","subtitlePadding":32,"offset":13}},
   {"width":100,"height":1,"data":{"values":[]},"mark":"point","encoding":{},
    "title":{"text":"MASK","subtitle":"30/12/2023","anchor":"end","fontSize":18.2,"fontWeight":"bold","subtitleFontSize":11,"subtitlePadding":43,"offset":9}}
  ]},
  {"spacing":5,"hconcat":[
   {"width":13.7,"height":1,"data":{"values":[]},"mark":"point","encoding":{}},
   {"width":101,"height":271,"view":{"fill":"#dedede","stroke":"#a6a6a6","cornerRadius":4},
    "data":{"name":"par1"},"transform":[{"fold":["p","v"],"as":["k","t"]}],
    "encoding":{"y":{"field":"p","type":"nominal","sort":null,"scale":{"paddingInner":0,"paddingOuter":0.25,"align":0.15},"axis":null},
     "yOffset":{"field":"k","type":"nominal","scale":{"domain":["p","v"],"paddingInner":0.15,"paddingOuter":0}}},
    "layer":[
     {"transform":[{"filter":"datum.k == 'v'"}],"mark":{"type":"rect","fill":"white","stroke":"#808080","strokeWidth":1},
      "encoding":{"x":{"datum":0.07,"type":"quantitative","scale":{"domain":[0,1]},"axis":null},"x2":{"datum":0.93}}},
     {"mark":{"type":"text","align":"left","dx":2,"fontSize":12,"color":"#222"},
      "encoding":{"x":{"datum":0.07,"type":"quantitative"},"text":{"field":"t"}}}
    ]},
   {"width":0.8,"height":1,"data":{"values":[]},"mark":"point","encoding":{}},
   {"width":1123,"height":312,"view":{"fill":"#e3e3e3","stroke":"#a3a3a3","cornerRadius":4},
    "layer":[
     {"data":{"values":[{}]},"mark":{"type":"rect","fill":"#cecece"},
      "encoding":{"x":{"datum":6416100000,"type":"quantitative","scale":{"domain":[6415875000,6629370000],"nice":false,"zero":false}},"x2":{"datum":6425000000},
       "y":{"datum":-30.5,"type":"quantitative","scale":{"domain":[-79.2,12.6],"nice":false,"zero":false}},"y2":{"datum":-70}}},
     {"data":{"values":[{}]},"mark":{"type":"rect","fill":"#cecece"},
      "encoding":{"x":{"datum":6625000000,"type":"quantitative"},"x2":{"datum":6629000000},"y":{"datum":-30.5,"type":"quantitative"},"y2":{"datum":-70}}},
     {"data":{"values":[{}]},"mark":{"type":"rect","fill":"white","stroke":"#777777","strokeWidth":1},
      "encoding":{"x":{"datum":6425000000,"type":"quantitative"},"x2":{"datum":6625000000},"y":{"datum":10,"type":"quantitative"},"y2":{"datum":-70}}},
     {"data":{"name":"gx1"},"mark":{"type":"rule","color":"#dcdcdc","strokeWidth":1.5},"encoding":{"x":{"field":"g","type":"quantitative"},"y":{"datum":-70,"type":"quantitative"},"y2":{"datum":10}}},
     {"data":{"name":"gy"},"mark":{"type":"rule","color":"#dcdcdc","strokeWidth":1.5},"encoding":{"y":{"field":"g","type":"quantitative"},"x":{"datum":6425000000,"type":"quantitative"},"x2":{"datum":6625000000}}},
     {"data":{"name":"m1"},"mark":{"type":"line","color":"#ff9fcf","strokeWidth":1},"encoding":{"x":{"field":"f","type":"quantitative"},"y":{"field":"b","type":"quantitative"},"detail":{"field":"seg"}}},
     {"data":{"name":"m1"},"mark":{"type":"line","color":"#2348e0","strokeWidth":1},"encoding":{"x":{"field":"f","type":"quantitative"},"y":{"field":"a","type":"quantitative"},"detail":{"field":"seg"}}},
     {"data":{"name":"s1"},"mark":{"type":"line","color":"#ff96c8","strokeWidth":1.3},"encoding":{"x":{"field":"f","type":"quantitative"},"y":{"field":"b","type":"quantitative"}}},
     {"data":{"name":"s1"},"mark":{"type":"line","color":"#0b2ed8","strokeWidth":1.5},
      "encoding":{
       "x":{"field":"f","type":"quantitative",
        "axis":{"title":null,"values":[6425000000,6430000000,6440000000,6450000000,6460000000,6470000000,6480000000,6490000000,6500000000,6510000000,6520000000,6530000000,6540000000,6550000000,6560000000,6570000000,6580000000,6590000000,6600000000,6610000000,6620000000,6625000000],
         "labelExpr":"datum.value == 6430000000 || datum.value == 6620000000 ? '' : format(datum.value, '.4~s')",
         "tickCount":60,"offset":-31.3,"domain":false,"labelFontSize":11,"labelColor":"#333","labelPadding":2,"labelOverlap":false,"labelFlush":false,"tickSize":6,"tickColor":"#333","grid":false,"zindex":1}},
       "y":{"field":"a","type":"quantitative",
        "axis":{"title":null,"values":[10,0,-10,-20,-30,-40,-50,-60,-70],"tickCount":30,"offset":-48,"domain":false,"labelFontSize":11,"labelColor":"#333","labelPadding":2,"labelOverlap":false,"labelFlush":false,"tickSize":6,"tickColor":"#333","grid":false,"zindex":1}}}},
     {"data":{"name":"t1"},"mark":{"type":"point","filled":true,"color":"black","size":30,"opacity":1},"encoding":{"x":{"field":"Ref(Hz)","type":"quantitative"},"y":{"field":"Ref(dBm)","type":"quantitative"}}},
     {"data":{"name":"t1"},"mark":{"type":"point","filled":true,"color":"black","size":30,"opacity":1},"encoding":{"x":{"field":"Freq(Hz)","type":"quantitative"},"y":{"field":"Level(dBm)","type":"quantitative"}}}
    ]},
   {"width":109,"height":50,"view":{"fill":"#dcdcdc","stroke":"#a6a6a6","cornerRadius":4},"data":{"name":"ports"},
    "layer":[
     {"mark":{"type":"text","align":"left","fontSize":12,"color":"#222"},
      "encoding":{"x":{"datum":0.14,"type":"quantitative","scale":{"domain":[0,1]},"axis":null},"y":{"field":"port","type":"nominal","scale":{"paddingInner":0.2,"paddingOuter":0.1},"axis":null},"text":{"field":"port"}}},
     {"mark":{"type":"rect","fill":"white","stroke":"#8a8a8a","strokeWidth":1},
      "encoding":{"x":{"datum":0.605,"type":"quantitative"},"x2":{"datum":0.87},"y":{"field":"port","type":"nominal"}}},
     {"mark":{"type":"point","shape":"M-1,0.4L-0.4,-0.45L0.25,0.35L0.95,-0.5","size":700,"filled":false,"strokeWidth":1,"opacity":1},
      "encoding":{"x":{"datum":0.7375,"type":"quantitative"},"y":{"field":"port","type":"nominal"},"stroke":{"field":"port","type":"nominal","scale":{"domain":["Port 1","Port 2"],"range":["#3f5fe6","#ff9fcf"]},"legend":null}}}
    ]}
  ]},
  {"width":1,"height":3,"data":{"values":[]},"mark":"point","encoding":{}},
  {"spacing":5,"hconcat":[
   {"width":128.5,"height":1,"data":{"values":[]},"mark":"point","encoding":{}},
   {"width":552,"height":83,"view":{"fill":"#dcdcdc","stroke":"#a6a6a6","cornerRadius":4},"data":{"name":"t1"},
    "transform":[{"fold":["Ref(Hz)","Ref(dBm)","Freq(Hz)","Level(dBm)","Limit(dBm)","Margin(dB)","Port"],"as":["col","val"]}],
    "layer":[
     {"mark":{"type":"rect","fill":"white","stroke":"#c6c6c6","strokeWidth":1},
      "encoding":{"x":{"field":"col","type":"nominal","scale":{"domain":["Ref(Hz)","Ref(dBm)","Freq(Hz)","Level(dBm)","Limit(dBm)","Margin(dB)","Port"],"paddingInner":0,"paddingOuter":0.152,"align":0.52},"axis":null},
       "y":{"field":"Port","type":"ordinal","scale":{"domain":[0,1,2],"paddingInner":0,"paddingOuter":0.596,"align":0.4},"axis":null}}},
     {"transform":[{"filter":"datum.Port == 1"}],"mark":{"type":"rect","fill":"white","stroke":"#c6c6c6","strokeWidth":1},
      "encoding":{"x":{"field":"col","type":"nominal"},"y":{"datum":0,"type":"ordinal"}}},
     {"transform":[{"filter":"datum.Port == 1"}],"mark":{"type":"text","align":"left","dx":5,"fontSize":12,"color":"#222"},
      "encoding":{"x":{"field":"col","type":"nominal","bandPosition":0},"y":{"datum":0,"type":"ordinal"},"text":{"field":"col"}}},
     {"mark":{"type":"text","align":"left","dx":5,"fontSize":12,"color":"#222"},
      "encoding":{"x":{"field":"col","type":"nominal","bandPosition":0},"y":{"field":"Port","type":"ordinal"},"text":{"field":"val","type":"quantitative","format":".7~s"}}}
    ]}
  ]}
 ]},
 {"width":3,"height":813,"view":{"fill":"black","stroke":null},"data":{"values":[]},"mark":"point","encoding":{}}
]},
{"width":1408,"height":3,"view":{"fill":"black","stroke":null},"data":{"values":[]},"mark":"point","encoding":{}},
{"spacing":0,"hconcat":[
 {"width":3,"height":816,"view":{"fill":"black","stroke":null},"data":{"values":[]},"mark":"point","encoding":{}},
 {"spacing":0,"vconcat":[
  {"width":1402,"height":142,"data":{"values":[]},"mark":"point","encoding":{}},
  {"spacing":657,"hconcat":[
   {"width":600,"height":1,"data":{"values":[]},"mark":"point","encoding":{},
    "title":{"text":"6.525-6.875GHz_802.11be EHT40-BF_Nss1,(MCS0)_2TX","subtitle":"6565MHz_TX","anchor":"start","dx":24,"fontSize":18.2,"fontWeight":"bold","subtitleFontSize":18.2,"subtitleFontWeight":"bold","subtitlePadding":32,"offset":13}},
   {"width":100,"height":1,"data":{"values":[]},"mark":"point","encoding":{},
    "title":{"text":"MASK","subtitle":"30/12/2023","anchor":"end","fontSize":18.2,"fontWeight":"bold","subtitleFontSize":11,"subtitlePadding":43,"offset":9}}
  ]},
  {"spacing":5,"hconcat":[
   {"width":13.7,"height":1,"data":{"values":[]},"mark":"point","encoding":{}},
   {"width":101,"height":271,"view":{"fill":"#dedede","stroke":"#a6a6a6","cornerRadius":4},
    "data":{"name":"par2"},"transform":[{"fold":["p","v"],"as":["k","t"]}],
    "encoding":{"y":{"field":"p","type":"nominal","sort":null,"scale":{"paddingInner":0,"paddingOuter":0.25,"align":0.15},"axis":null},
     "yOffset":{"field":"k","type":"nominal","scale":{"domain":["p","v"],"paddingInner":0.15,"paddingOuter":0}}},
    "layer":[
     {"transform":[{"filter":"datum.k == 'v'"}],"mark":{"type":"rect","fill":"white","stroke":"#808080","strokeWidth":1},
      "encoding":{"x":{"datum":0.07,"type":"quantitative","scale":{"domain":[0,1]},"axis":null},"x2":{"datum":0.93}}},
     {"mark":{"type":"text","align":"left","dx":2,"fontSize":12,"color":"#222"},
      "encoding":{"x":{"datum":0.07,"type":"quantitative"},"text":{"field":"t"}}}
    ]},
   {"width":0.8,"height":1,"data":{"values":[]},"mark":"point","encoding":{}},
   {"width":1123,"height":312,"view":{"fill":"#e3e3e3","stroke":"#a3a3a3","cornerRadius":4},
    "layer":[
     {"data":{"values":[{}]},"mark":{"type":"rect","fill":"#cecece"},
      "encoding":{"x":{"datum":6456100000,"type":"quantitative","scale":{"domain":[6455875000,6669370000],"nice":false,"zero":false}},"x2":{"datum":6465000000},
       "y":{"datum":-30.5,"type":"quantitative","scale":{"domain":[-79.2,12.6],"nice":false,"zero":false}},"y2":{"datum":-70}}},
     {"data":{"values":[{}]},"mark":{"type":"rect","fill":"#cecece"},
      "encoding":{"x":{"datum":6665000000,"type":"quantitative"},"x2":{"datum":6669000000},"y":{"datum":-30.5,"type":"quantitative"},"y2":{"datum":-70}}},
     {"data":{"values":[{}]},"mark":{"type":"rect","fill":"white","stroke":"#777777","strokeWidth":1},
      "encoding":{"x":{"datum":6465000000,"type":"quantitative"},"x2":{"datum":6665000000},"y":{"datum":10,"type":"quantitative"},"y2":{"datum":-70}}},
     {"data":{"name":"gx2"},"mark":{"type":"rule","color":"#dcdcdc","strokeWidth":1.5},"encoding":{"x":{"field":"g","type":"quantitative"},"y":{"datum":-70,"type":"quantitative"},"y2":{"datum":10}}},
     {"data":{"name":"gy"},"mark":{"type":"rule","color":"#dcdcdc","strokeWidth":1.5},"encoding":{"y":{"field":"g","type":"quantitative"},"x":{"datum":6465000000,"type":"quantitative"},"x2":{"datum":6665000000}}},
     {"data":{"name":"m2"},"mark":{"type":"line","color":"#ff9fcf","strokeWidth":1.3},"encoding":{"x":{"field":"f","type":"quantitative"},"y":{"field":"b","type":"quantitative"},"detail":{"field":"seg"}}},
     {"data":{"name":"m2"},"mark":{"type":"line","color":"#2348e0","strokeWidth":1},"encoding":{"x":{"field":"f","type":"quantitative"},"y":{"field":"a","type":"quantitative"},"detail":{"field":"seg"}}},
     {"data":{"name":"s2"},"mark":{"type":"line","color":"#ff96c8","strokeWidth":1.3},"encoding":{"x":{"field":"f","type":"quantitative"},"y":{"field":"b","type":"quantitative"}}},
     {"data":{"name":"s2"},"mark":{"type":"line","color":"#0b2ed8","strokeWidth":1.5},
      "encoding":{
       "x":{"field":"f","type":"quantitative",
        "axis":{"title":null,"values":[6465000000,6470000000,6480000000,6490000000,6500000000,6510000000,6520000000,6530000000,6540000000,6550000000,6560000000,6570000000,6580000000,6590000000,6600000000,6610000000,6620000000,6630000000,6640000000,6650000000,6660000000,6665000000],
         "labelExpr":"datum.value == 6470000000 || datum.value == 6660000000 ? '' : format(datum.value, '.4~s')",
         "tickCount":60,"offset":-31.3,"domain":false,"labelFontSize":11,"labelColor":"#333","labelPadding":2,"labelOverlap":false,"labelFlush":false,"tickSize":6,"tickColor":"#333","grid":false,"zindex":1}},
       "y":{"field":"a","type":"quantitative",
        "axis":{"title":null,"values":[10,0,-10,-20,-30,-40,-50,-60,-70],"tickCount":30,"offset":-48,"domain":false,"labelFontSize":11,"labelColor":"#333","labelPadding":2,"labelOverlap":false,"labelFlush":false,"tickSize":6,"tickColor":"#333","grid":false,"zindex":1}}}},
     {"data":{"name":"t2"},"mark":{"type":"point","filled":true,"color":"black","size":30,"opacity":1},"encoding":{"x":{"field":"Ref(Hz)","type":"quantitative"},"y":{"field":"Ref(dBm)","type":"quantitative"}}},
     {"data":{"name":"t2"},"mark":{"type":"point","filled":true,"color":"black","size":30,"opacity":1},"encoding":{"x":{"field":"Freq(Hz)","type":"quantitative"},"y":{"field":"Level(dBm)","type":"quantitative"}}}
    ]},
   {"width":109,"height":50,"view":{"fill":"#dcdcdc","stroke":"#a6a6a6","cornerRadius":4},"data":{"name":"ports"},
    "layer":[
     {"mark":{"type":"text","align":"left","fontSize":12,"color":"#222"},
      "encoding":{"x":{"datum":0.14,"type":"quantitative","scale":{"domain":[0,1]},"axis":null},"y":{"field":"port","type":"nominal","scale":{"paddingInner":0.2,"paddingOuter":0.1},"axis":null},"text":{"field":"port"}}},
     {"mark":{"type":"rect","fill":"white","stroke":"#8a8a8a","strokeWidth":1},
      "encoding":{"x":{"datum":0.605,"type":"quantitative"},"x2":{"datum":0.87},"y":{"field":"port","type":"nominal"}}},
     {"mark":{"type":"point","shape":"M-1,0.4L-0.4,-0.45L0.25,0.35L0.95,-0.5","size":700,"filled":false,"strokeWidth":1,"opacity":1},
      "encoding":{"x":{"datum":0.7375,"type":"quantitative"},"y":{"field":"port","type":"nominal"},"stroke":{"field":"port","type":"nominal","scale":{"domain":["Port 1","Port 2"],"range":["#3f5fe6","#ff9fcf"]},"legend":null}}}
    ]}
  ]},
  {"width":1,"height":3,"data":{"values":[]},"mark":"point","encoding":{}},
  {"spacing":5,"hconcat":[
   {"width":128.5,"height":1,"data":{"values":[]},"mark":"point","encoding":{}},
   {"width":552,"height":83,"view":{"fill":"#dcdcdc","stroke":"#a6a6a6","cornerRadius":4},"data":{"name":"t2"},
    "transform":[{"fold":["Ref(Hz)","Ref(dBm)","Freq(Hz)","Level(dBm)","Limit(dBm)","Margin(dB)","Port"],"as":["col","val"]}],
    "layer":[
     {"mark":{"type":"rect","fill":"white","stroke":"#c6c6c6","strokeWidth":1},
      "encoding":{"x":{"field":"col","type":"nominal","scale":{"domain":["Ref(Hz)","Ref(dBm)","Freq(Hz)","Level(dBm)","Limit(dBm)","Margin(dB)","Port"],"paddingInner":0,"paddingOuter":0.152,"align":0.52},"axis":null},
       "y":{"field":"Port","type":"ordinal","scale":{"domain":[0,1,2],"paddingInner":0,"paddingOuter":0.596,"align":0.4},"axis":null}}},
     {"transform":[{"filter":"datum.Port == 1"}],"mark":{"type":"rect","fill":"white","stroke":"#c6c6c6","strokeWidth":1},
      "encoding":{"x":{"field":"col","type":"nominal"},"y":{"datum":0,"type":"ordinal"}}},
     {"transform":[{"filter":"datum.Port == 1"}],"mark":{"type":"text","align":"left","dx":5,"fontSize":12,"color":"#222"},
      "encoding":{"x":{"field":"col","type":"nominal","bandPosition":0},"y":{"datum":0,"type":"ordinal"},"text":{"field":"col"}}},
     {"mark":{"type":"text","align":"left","dx":5,"fontSize":12,"color":"#222"},
      "encoding":{"x":{"field":"col","type":"nominal","bandPosition":0},"y":{"field":"Port","type":"ordinal"},"text":{"field":"val","type":"quantitative","format":".7~s"}}}
    ]}
  ]}
 ]},
 {"width":3,"height":816,"view":{"fill":"black","stroke":null},"data":{"values":[]},"mark":"point","encoding":{}}
]}
]
}
